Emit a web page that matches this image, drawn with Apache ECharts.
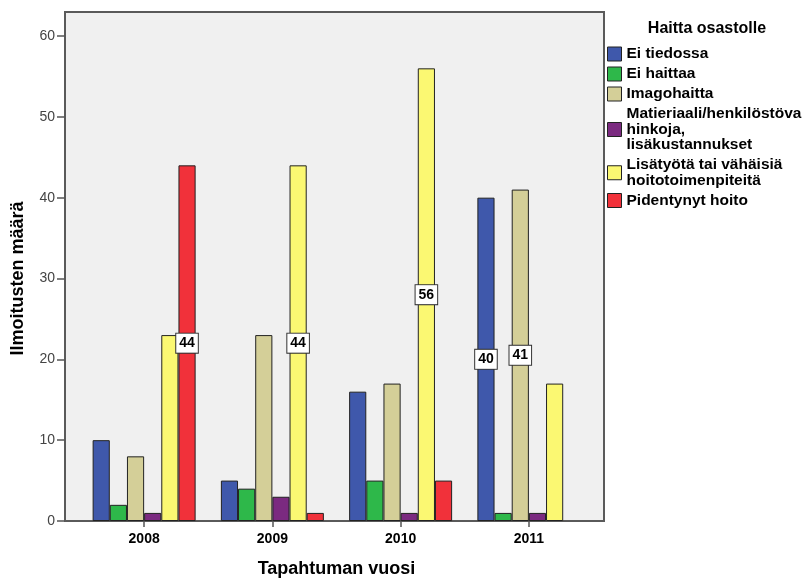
<!DOCTYPE html>
<html>
<head>
<meta charset="utf-8">
<script src="https://cdn.jsdelivr.net/npm/echarts@6/dist/echarts.min.js"></script>
<style>
html,body{margin:0;padding:0;background:#fff;}
#chart{width:804px;height:578px;}
</style>
</head>
<body>
<div id="chart"></div>
<script>
const categories = ['2008', '2009', '2010', '2011'];
const seriesNames = ['Ei tiedossa', 'Ei haittaa', 'Imagohaitta', 'Matieriaali/henkilöstövahinkoja, lisäkustannukset', 'Lisätyötä tai vähäisiä hoitotoimenpiteitä', 'Pidentynyt hoito'];
const legendLabels = ['Ei tiedossa', 'Ei haittaa', 'Imagohaitta', 'Matieriaali/henkilöstöva\nhinkoja,\nlisäkustannukset', 'Lisätyötä tai vähäisiä\nhoitotoimenpiteitä', 'Pidentynyt hoito'];
const eiTiedossa = [10, 5, 16, 40];
const eiHaittaa = [2, 4, 5, 1];
const imagohaitta = [8, 23, 17, 41];
const matieriaali = [1, 3, 1, 1];
const lisatyota = [23, 44, 56, 17];
const pidentynyt = [44, 1, 5, null];
const seriesValues = [eiTiedossa, eiHaittaa, imagohaitta, matieriaali, lisatyota, pidentynyt];
const colors = ['#3f58ab', '#2eb84a', '#d4cf98', '#7b2a80', '#fbf872', '#f1313a'];
// [seriesIndex, categoryIndex] of bars carrying a value label
const labeledBars = [[5, 0], [4, 1], [4, 2], [0, 3], [2, 3]];
const yTicks = [0, 10, 20, 30, 40, 50, 60];

const chart = echarts.init(document.getElementById('chart'), null, {renderer: 'canvas'});

const series = seriesNames.map((name, si) => ({
  name: name,
  type: 'bar',
  xAxisIndex: 0,
  yAxisIndex: 0,
  barGap: '0%',
  barCategoryGap: '19.7%',
  itemStyle: {color: colors[si], borderColor: '#222', borderWidth: 1},
  emphasis: {disabled: true},
  data: seriesValues[si].map((v, ci) => {
    const lab = labeledBars.some(p => p[0] === si && p[1] === ci);
    return lab ? {value: v, label: {show: true}} : v;
  }),
  label: {
    show: false,
    position: 'inside',
    backgroundColor: '#ffffff',
    borderColor: '#333',
    borderWidth: 1,
    padding: [3, 3, 2, 3],
    color: '#000',
    fontFamily: 'Liberation Sans',
    fontWeight: 'bold',
    fontSize: 14
  }
}));

const option = {
  animation: false,
  backgroundColor: '#ffffff',
  title: {
    text: 'Haitta osastolle',
    left: 707,
    top: 21,
    padding: 0,
    textAlign: 'center',
    textStyle: {fontFamily: 'Liberation Sans', fontWeight: 'bold', fontSize: 16, color: '#000'}
  },
  legend: {
    orient: 'vertical',
    left: 607,
    top: 46,
    padding: 0,
    itemWidth: 14,
    itemHeight: 14,
    itemGap: 4,
    icon: 'rect',
    data: seriesNames,
    formatter: n => legendLabels[seriesNames.indexOf(n)],
    textStyle: {fontFamily: 'Liberation Sans', fontWeight: 'bold', fontSize: 15.5, lineHeight: 15.5, color: '#000', padding: [0, 0, 0, 0]},
    itemStyle: {borderColor: '#222', borderWidth: 1}
  },
  grid: [
    {left: 80, right: 211, top: 36, bottom: 57, containLabel: false, outerBoundsMode: 'none'},
    {left: 65, right: 200, top: 12, bottom: 57, show: true, backgroundColor: '#f0f0f0', borderColor: '#5a5a5a', borderWidth: 2, z: -1, outerBoundsMode: 'none'}
  ],
  xAxis: [
    {
      gridIndex: 0,
      type: 'category',
      data: categories,
      axisLine: {show: false},
      axisTick: {show: true, alignWithLabel: true, length: 6, lineStyle: {color: '#555', width: 1.5}},
      axisLabel: {margin: 11, fontFamily: 'Liberation Sans', fontWeight: 'bold', fontSize: 14, color: '#000'},
      name: 'Tapahtuman vuosi',
      nameLocation: 'middle',
      nameGap: 39,
      nameTextStyle: {fontFamily: 'Liberation Sans', fontWeight: 'bold', fontSize: 18, color: '#000'}
    },
    {gridIndex: 1, type: 'value', show: false, min: 0, max: 1}
  ],
  yAxis: [
    {
      gridIndex: 0,
      type: 'value',
      min: 0,
      max: 60,
      interval: 10,
      offset: 15,
      axisLine: {show: false},
      axisTick: {show: true, length: 8, lineStyle: {color: '#555', width: 1.5}},
      splitLine: {show: false},
      axisLabel: {margin: 10, fontFamily: 'Liberation Sans', fontSize: 14, color: '#444',
        formatter: v => (yTicks.indexOf(v) >= 0 ? String(v) : '')},
      name: 'Ilmoitusten määrä',
      nameLocation: 'middle',
      nameGap: 38,
      nameRotate: 90,
      nameTextStyle: {fontFamily: 'Liberation Sans', fontWeight: 'bold', fontSize: 18, color: '#000'}
    },
    {gridIndex: 1, type: 'value', show: false, min: 0, max: 1}
  ],
  series: series
};
chart.setOption(option);
</script>
</body>
</html>
